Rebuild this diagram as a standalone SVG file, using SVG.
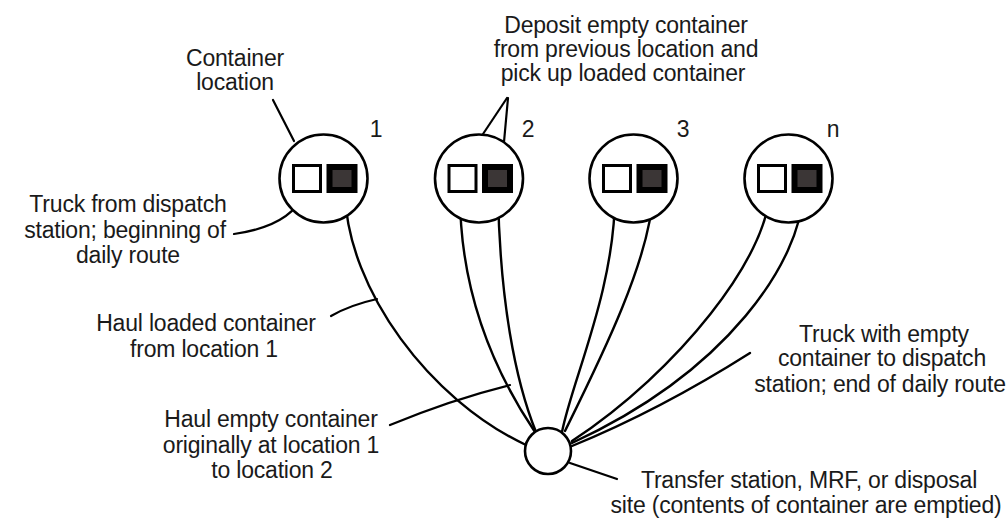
<svg xmlns="http://www.w3.org/2000/svg" width="1007" height="519" viewBox="0 0 1007 519">
  <style>
    .bg { fill: #ffffff; }
    .loc { fill: #ffffff; stroke: #000000; stroke-width: 2.6; }
    .empty { fill: #ffffff; stroke: #000000; stroke-width: 3; }
    .full { fill: #3b3636; stroke: #000000; stroke-width: 6; }
    .route { fill: none; stroke: #000000; stroke-width: 2.4; stroke-linecap: round; }
    .lead { fill: none; stroke: #000000; stroke-width: 2.2; stroke-linecap: round; }
    text { font-family: "Liberation Sans", Arial, sans-serif; font-size: 23px; letter-spacing: -0.2px; fill: #1a1a1a; text-anchor: middle; }
  </style>
  <defs>
    <!-- one pickup location: ring holding an empty and a loaded container -->
    <g id="site">
      <circle class="loc" cx="0" cy="178.5" r="44"/>
      <rect class="empty" x="-30" y="165.5" width="27" height="26"/>
      <rect class="full" x="6" y="167" width="25" height="23"/>
    </g>
  </defs>

  <rect class="bg" x="0" y="0" width="1007" height="519"/>

  <!-- route legs and label leaders -->
  <g id="connectors">
    <!-- location 1 loaded container hauled to the facility -->
    <path class="route" d="M345,194 C348,290 430,400 526,445"/>
    <!-- location 2 -->
    <path class="route" d="M460,194 C460,300 500,380 535,432"/>
    <path class="route" d="M498,194 C500,300 515,380 536,432"/>
    <!-- location 3 -->
    <path class="route" d="M615,194 C615,290 572,380 562,432"/>
    <path class="route" d="M653,194 C650,260 600,360 565,431"/>
    <!-- location n -->
    <path class="route" d="M769,194 C768,255 680,370 572,441"/>
    <path class="route" d="M803,194 C800,260 730,370 572,443"/>
    <!-- return leg to dispatch -->
    <path class="route" d="M750,353 Q660,410 572,446"/>

    <!-- leaders -->
    <path class="lead" d="M273,100 L294,141"/>
    <path class="lead" d="M304,194 Q290,226 234,234"/>
    <path class="lead" d="M331,316 Q350,305 377,299"/>
    <path class="lead" d="M390,425 Q450,400 510,385"/>
    <path class="lead" d="M507,98 L463,164"/>
    <path class="lead" d="M508,98 L502,164"/>
    <path class="lead" d="M570,463 L617,479"/>
  </g>

  <g id="location-1">
    <use href="#site" x="323.5"/>
    <text x="376" y="137">1</text>
  </g>
  <g id="location-2">
    <use href="#site" x="479"/>
    <text x="528" y="137">2</text>
  </g>
  <g id="location-3">
    <use href="#site" x="633.5"/>
    <text x="683" y="137">3</text>
  </g>
  <g id="location-n">
    <use href="#site" x="788.5"/>
    <text x="833" y="137">n</text>
  </g>

  <g id="facility">
    <circle class="loc" cx="548" cy="451" r="23"/>
  </g>

  <g id="labels">
    <text x="235" y="66">Container</text>
    <text x="235" y="90">location</text>

    <text x="626" y="33">Deposit empty container</text>
    <text x="626" y="57">from previous location and</text>
    <text x="623" y="81">pick up loaded container</text>

    <text x="128" y="212">Truck from dispatch</text>
    <text x="125" y="238">station; beginning of</text>
    <text x="128" y="263">daily route</text>

    <text x="206" y="331">Haul loaded container</text>
    <text x="204" y="357">from location 1</text>

    <text x="271" y="427">Haul empty container</text>
    <text x="271" y="453">originally at location 1</text>
    <text x="272" y="478">to location 2</text>

    <text x="884" y="342">Truck with empty</text>
    <text x="882" y="366">container to dispatch</text>
    <text x="880" y="392">station; end of daily route</text>

    <text x="809" y="488">Transfer station, MRF, or disposal</text>
    <text x="806" y="513">site (contents of container are emptied)</text>
  </g>
</svg>
